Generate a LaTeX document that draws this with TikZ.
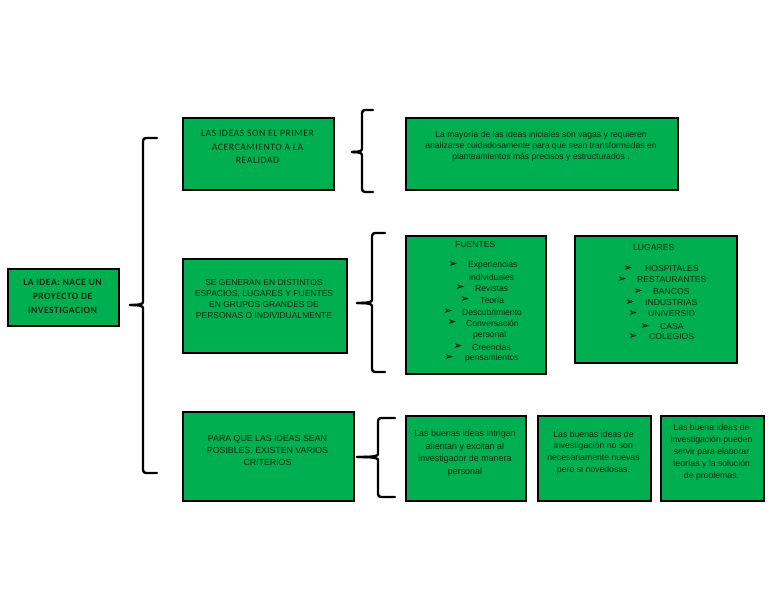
\documentclass[tikz,border=0pt]{standalone}
\usepackage{fontspec}
\setmainfont{Liberation Sans}
\newfontfamily\calfont[LetterSpace=5]{Carlito}
\newfontfamily\dvfont{DejaVu Sans}
\definecolor{boxgreen}{RGB}{0,176,80}
\definecolor{txt}{RGB}{12,40,18}
\newcommand\mybrace[6]{%
  \draw[br] (#4,#2) -- (#1,#2) -- (#1,#6-6) .. controls (#1,#6-1) and (#1-3,#6) .. (#5,#6);
  \draw[br] (#5,#6) .. controls (#1-3,#6) and (#1,#6+1) .. (#1,#6+6) -- (#1,#3) -- (#4,#3);}
\begin{document}
\begin{tikzpicture}[x=1pt,y=-1pt,
  box/.style={draw=black, line width=1.5pt, fill=boxgreen, inner sep=0pt, anchor=north west},
  t/.style={text=txt, font=\fontsize{8.7}{11.5}\selectfont, align=center, inner sep=0pt},
  tc/.style={text=txt, font=\fontsize{9.8}{13.5}\selectfont\calfont, align=center, inner sep=0pt},
  it/.style={text=txt, font=\fontsize{8.6}{10}\selectfont, anchor=west, inner sep=0pt},
  ar/.style={text=black, font=\fontsize{11}{11}\selectfont\dvfont, anchor=center, inner sep=0pt},
  br/.style={draw=black, line width=2.4pt, rounded corners=3pt, line cap=round}]
\useasboundingbox[fill=white] (0,0) rectangle (768,594);

% boxes
\node[box, minimum width=111pt, minimum height=57pt] (A) at (7,268) {};
\node[box, minimum width=151pt, minimum height=72pt] (B1) at (182,117) {};
\node[box, minimum width=272pt, minimum height=72pt] (C1) at (405,117) {};
\node[box, minimum width=164pt, minimum height=94pt] (B2) at (182,258) {};
\node[box, minimum width=140pt, minimum height=138pt] (F) at (405,235) {};
\node[box, minimum width=162pt, minimum height=127pt] (L) at (574,235) {};
\node[box, minimum width=171pt, minimum height=89pt] (B3) at (182,411) {};
\node[box, minimum width=120pt, minimum height=85pt] (D1) at (405,415) {};
\node[box, minimum width=113pt, minimum height=85pt] (D2) at (537,415) {};
\node[box, minimum width=103pt, minimum height=85pt] (D3) at (660,415) {};

% braces
\mybrace{143}{138}{473}{157}{130}{305}
\mybrace{362}{110}{192}{373}{352}{152}
\mybrace{372}{233}{372}{385}{357}{303}
\mybrace{378}{418}{497}{395}{357}{457}

% texts
\node[tc, font=\fontsize{9.6}{14}\selectfont\calfont\bfseries] (tA) at (62.5,296) {LA IDEA: NACE UN\\PROYECTO DE\\INVESTIGACION};
\node[tc] (tB1) at (257.5,147) {LAS IDEAS SON EL PRIMER\\ACERCAMIENTO A LA\\REALIDAD};
\node[t, font=\fontsize{8.6}{11}\selectfont] (tC1) at (541,146) {La mayoría de las ideas iniciales son vagas y requieren\\analizarse cuidadosamente para que sean transformadas en\\planteamientos más precisos y estructurados .};
\node[t, font=\fontsize{8.5}{11}\selectfont] (tB2) at (264,299) {SE GENERAN EN DISTINTOS\\ESPACIOS, LUGARES Y FUENTES\\EN GRUPOS GRANDES DE\\PERSONAS O INDIVIDUALMENTE};
\node[t, font=\fontsize{8.8}{12}\selectfont] (tB3) at (267.5,450) {PARA QUE LAS IDEAS SEAN\\POSIBLES, EXISTEN VARIOS\\CRITERIOS};
\node[t, font=\fontsize{8.9}{12.5}\selectfont] (tD1) at (465,453) {Las buenas ideas intrigan\\alientan y excitan al\\investigador de manera\\personal};
\node[t, font=\fontsize{8.7}{11.7}\selectfont] (tD2) at (593.5,452.5) {Las buenas ideas de\\investigación no son\\necesariamente nuevas\\pero si novedosas.};
\node[t, font=\fontsize{8.7}{12}\selectfont] (tD3) at (711.5,452) {Las buena ideas de\\investigación pueden\\servir para elaborar\\teorías y la solución\\de problemas.};

% FUENTES
\node[it] (fh) at (455,245) {FUENTES};
\node[ar] (fa1) at (453,265) {➢}; \node[it] (f1) at (468,265) {Experiencias};
\node[it] (f1b) at (469,277) {individuales};
\node[ar] (fa2) at (460,288) {➢}; \node[it] (f2) at (475,288) {Revistas};
\node[ar] (fa3) at (465,300) {➢}; \node[it] (f3) at (480,300) {Teoría};
\node[ar] (fa4) at (448,312) {➢}; \node[it] (f4) at (462,312) {Descubrimiento};
\node[ar] (fa5) at (452,323) {➢}; \node[it] (f5) at (466,323) {Conversación};
\node[it] (f5b) at (473,335) {personal};
\node[ar] (fa6) at (458,347) {➢}; \node[it] (f6) at (472,347) {Creencias};
\node[ar] (fa7) at (449,358) {➢}; \node[it] (f7) at (465,358) {pensamientos};

% LUGARES
\node[it] (lh) at (633,248) {LUGARES};
\node[ar] (la1) at (628,269) {➢}; \node[it] (l1) at (645,269) {HOSPITALES};
\node[ar] (la2) at (622,280) {➢}; \node[it] (l2) at (637,280) {RESTAURANTES};
\node[ar] (la3) at (638,292) {➢}; \node[it] (l3) at (653,292) {BANCOS};
\node[ar] (la4) at (630,303) {➢}; \node[it] (l4) at (645,303) {INDUSTRIAS};
\node[ar] (la5) at (633,314) {➢}; \node[it] (l5) at (648,314) {UNIVERSID};
\node[ar] (la6) at (645,327) {➢}; \node[it] (l6) at (660,327) {CASA};
\node[ar] (la7) at (633,337) {➢}; \node[it] (l7) at (649,337) {COLEGIOS};
\end{tikzpicture}
\end{document}
